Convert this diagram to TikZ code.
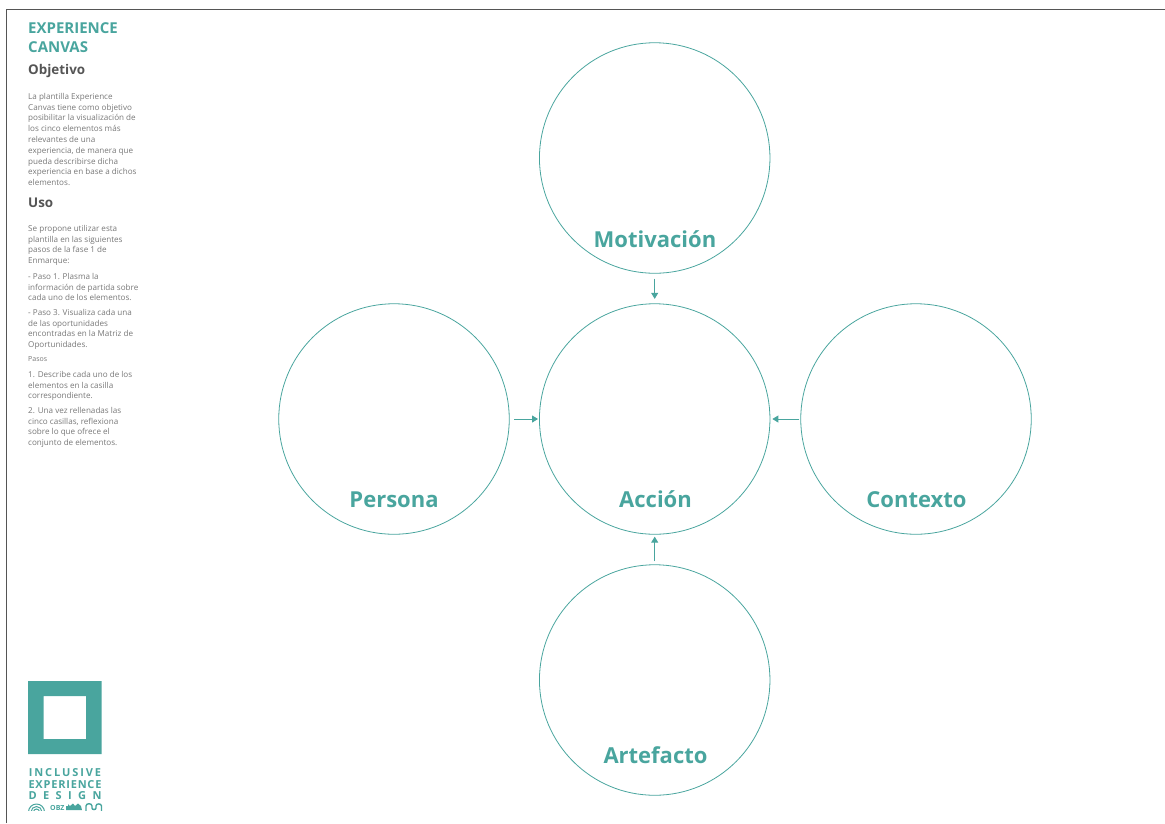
\documentclass[tikz,border=0pt]{standalone}
\usepackage{fontspec}
\setmainfont{Open Sans}
\usetikzlibrary{arrows.meta}
\definecolor{teal1}{HTML}{49A59E}
\definecolor{gris1}{HTML}{555555}
\definecolor{gris2}{HTML}{777777}
\tikzset{
	circulo/.style={circle,draw=teal1,line width=0.8,minimum size=230.5,inner sep=0},
	etiqueta/.style={text=teal1,font=\fontsize{22}{22}\selectfont\bfseries,anchor=base,inner sep=0},
	flecha/.style={draw=teal1,line width=0.9,-{Triangle[length=6,width=7]}},
	titulo/.style={text=teal1,font=\fontsize{15}{18.5}\selectfont\bfseries,anchor=north west,align=left,inner sep=0},
	seccion/.style={text=gris1,font=\fontsize{13.4}{13.4}\selectfont\bfseries,anchor=base west,inner sep=0},
	cuerpo/.style={text=gris2,font=\fontsize{8.1}{10.8}\selectfont,anchor=north west,align=left,inner sep=0},
	marca/.style={text=teal1,font=\fontsize{11}{11}\selectfont\bfseries,anchor=base,inner sep=0},
}
\begin{document}
\begin{tikzpicture}[x=1pt,y=-1pt]
	\useasboundingbox (0,0) rectangle (1165,823);
	\draw [gris1,line width=1.4] (6.5,823) -- (6.5,9.5) -- (1165,9.5);
	% circulos
	\node [circulo] (M) at (654.7,158) {};
	\node [circulo] (P) at (394,419) {};
	\node [circulo] (A) at (654.7,419) {};
	\node [circulo] (C) at (916,419) {};
	\node [circulo] (F) at (654.7,680) {};
	\node [etiqueta] (lM) at (655,247) {Motivación};
	\node [etiqueta] (lP) at (394,507.5) {Persona};
	\node [etiqueta] (lA) at (655.5,507.5) {Acción};
	\node [etiqueta] (lC) at (916.5,507.5) {Contexto};
	\node [etiqueta] (lF) at (655.5,763.5) {Artefacto};
	\draw [flecha,shorten <=5,shorten >=4.5] (M.south) to (A.north);
	\draw [flecha,shorten <=4.5,shorten >=1] (P.east) to (A.west);
	\draw [flecha,shorten <=1,shorten >=2] (C.west) to (A.east);
	\draw [flecha,shorten <=3,shorten >=2] (F.north) to (A.south);
	% columna izquierda
	\node [titulo] (tit) at (28,22.5) {EXPERIENCE\\CANVAS};
	\node [seccion] (obj) at (28,74.5) {Objetivo};
	\node [cuerpo] (txt1) at (28,93) {La plantilla Experience\\Canvas tiene como objetivo\\posibilitar la visualización de\\los cinco elementos más\\relevantes de una\\experiencia, de manera que\\pueda describirse dicha\\experiencia en base a dichos\\elementos.};
	\node [seccion] (uso) at (28,207) {Uso};
	\node [cuerpo] (txt2) at (28,225) {Se propone utilizar esta\\plantilla en las siguientes\\pasos de la fase 1 de\\Enmarque:};
	\node [cuerpo] (txt3) at (28,273) {- Paso 1. Plasma la\\información de partida sobre\\cada uno de los elementos.};
	\node [cuerpo] (txt4) at (28,309) {- Paso 3. Visualiza cada una\\de las oportunidades\\encontradas en la Matriz de\\Oportunidades.};
	\node [cuerpo,font=\fontsize{7}{10.8}\selectfont] (pasos) at (28,356) {Pasos};
	\node [cuerpo] (txt5) at (28,371) {1. Describe cada uno de los\\elementos en la casilla\\correspondiente.};
	\node [cuerpo] (txt6) at (28,407) {2. Una vez rellenadas las\\cinco casillas, reflexiona\\sobre lo que ofrece el\\conjunto de elementos.};
	% logo
	\fill [teal1,even odd rule] (28,681) rectangle (101.5,754) (43.5,696) rectangle (86,739);
	\node [marca] (ie1) at (65,776.5) {I\hspace{1.9pt}N\hspace{1.9pt}C\hspace{1.9pt}L\hspace{1.9pt}U\hspace{1.9pt}S\hspace{1.9pt}I\hspace{1.9pt}V\hspace{1.9pt}E};
	\node [marca] (ie2) at (65,788) {E\hspace{0.8pt}X\hspace{0.8pt}P\hspace{0.8pt}E\hspace{0.8pt}R\hspace{0.8pt}I\hspace{0.8pt}E\hspace{0.8pt}N\hspace{0.8pt}C\hspace{0.8pt}E};
	\node [marca] (ie3) at (65,799.5) {D\hspace{6.4pt}E\hspace{6.4pt}S\hspace{6.4pt}I\hspace{6.4pt}G\hspace{6.4pt}N};
	\begin{scope}
		\clip (20,803) rectangle (110,810);
		\foreach \r in {3,5.5,8}
			\draw [teal1,line width=1] (36.5,812) circle (\r);
		\node [text=teal1,font=\fontsize{7}{7}\selectfont\bfseries,anchor=base west,inner sep=0] (obz) at (50,810) {OBZ};
		\fill [teal1] (66,806) -- (68,806) -- (68,804) -- (70,806) -- (73,803.5) -- (75,806) -- (78,803.5) -- (81,806) -- (82,810) -- (66,810) -- cycle;
		\draw [teal1,line width=1.4] (86,811) -- (86,806) to[out=90,in=90,looseness=1.3] (92,806) -- (92,808) to[out=-90,in=-90,looseness=1.3] (96,808) -- (96,806) to[out=90,in=90,looseness=1.3] (101.5,806) -- (101.5,811);
	\end{scope}
\end{tikzpicture}
\end{document}
